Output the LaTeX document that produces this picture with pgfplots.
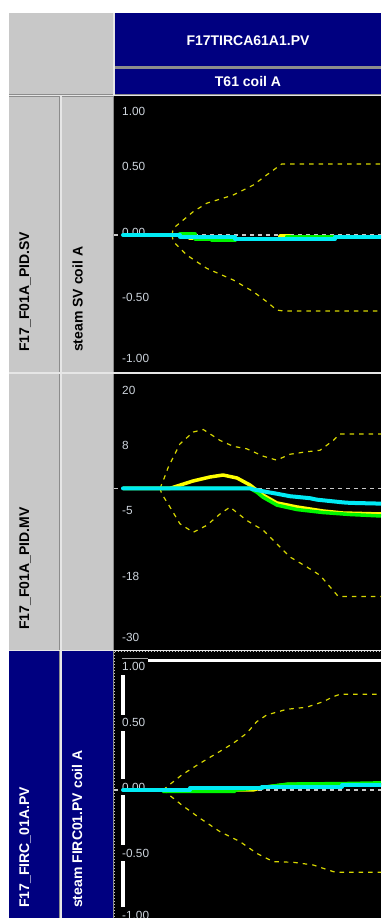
\documentclass[border=0pt]{standalone}
\usepackage{pgfplots}
\pgfplotsset{compat=1.18}
\usepackage{fontspec}
\setmainfont{Liberation Sans}
\definecolor{navy}{RGB}{0,0,128}
\definecolor{cellgray}{RGB}{200,200,200}
\definecolor{sepgray}{RGB}{140,140,140}
\definecolor{hilite}{RGB}{230,230,230}
\definecolor{ticktext}{RGB}{205,212,220}
\definecolor{envy}{RGB}{215,215,0}
\definecolor{zgray}{RGB}{200,200,200}
\definecolor{cyanc}{RGB}{0,235,245}
\definecolor{yelc}{RGB}{255,255,0}
\definecolor{grc}{RGB}{0,245,0}
\pgfplotsset{
 mat/.style={scale only axis, width=267pt, xmin=114, xmax=381, hide axis, anchor=north west, clip=true},
 env/.style={envy, line width=1.2pt, dash pattern=on 4.5pt off 5pt},
 zero/.style={zgray, line width=1.3pt, dash pattern=on 4pt off 4pt},
 cy/.style={cyanc, line width=4pt, line cap=round, line join=round},
 yl/.style={yelc, line width=3.5pt, line join=round},
 gr/.style={grc, line width=3.5pt, line join=round},
}
\tikzset{
 tl/.style={anchor=west, font=\fontsize{11.8}{12}\selectfont, text=ticktext, fill=black, inner xsep=2pt, inner ysep=3.8pt, text height=8.5pt, text depth=0pt},
 hl/.style={font=\bfseries\fontsize{14}{14}\selectfont},
 vl/.style={hl, rotate=90, anchor=west, inner sep=0pt},
}
\begin{document}
\begin{tikzpicture}
\useasboundingbox (0pt,0pt) rectangle (381pt,-918pt);
\clip (0pt,0pt) rectangle (381pt,-918pt);
\begin{scope}[x=1pt,y=-1pt]
\fill[white] (0,0) rectangle (381,918);
\fill[sepgray] (9,13) rectangle (381,918);
% light highlight lines of the grid
\fill[hilite] (9,95) rectangle (381,96.3);
\fill[hilite] (9,372.3) rectangle (381,373.5);
\fill[hilite] (9,650) rectangle (381,651);
\fill[hilite] (60.3,95) rectangle (61.5,918);
\fill[hilite] (113.2,13) rectangle (114.5,95);
% header
\fill[cellgray] (9.3,13.3) rectangle (112.7,94.3);
\fill[navy] (114.5,13.3) rectangle (381,66);
\fill[navy] (114.5,68.5) rectangle (381,94.3);
\node[hl, text=white] at (248,41) {F17TIRCA61A1.PV};
\node[hl, text=white] at (248,81) {T61 coil A};
% row 1
\fill[cellgray] (9.3,96.5) rectangle (58.7,371.5);
\fill[cellgray] (61.5,96.5) rectangle (112.7,371.5);
\fill[black] (114,95.5) rectangle (381,372);
\node[vl] at (25,352) {F17\_F01A\_PID.SV};
\node[vl] at (77.5,352) {steam SV coil A};
% row 2
\fill[cellgray] (9.3,373.5) rectangle (58.7,649.5);
\fill[cellgray] (61.5,373.5) rectangle (112.7,649.5);
\fill[black] (114,373.5) rectangle (381,649.5);
\node[vl] at (25,630) {F17\_F01A\_PID.MV};
% row 3
\fill[navy] (9.3,651) rectangle (58.7,918);
\fill[navy] (61.5,651) rectangle (112.7,918);
\fill[black] (114,651) rectangle (381,918);
\node[vl, text=white] at (25,908) {F17\_FIRC\_01A.PV};
\node[vl, text=white] at (77,908) {steam FIRC01.PV coil A};
\draw[gray!45, dotted, line width=1pt] (114.5,651.5) -- (381,651.5);
\draw[gray!45, dotted, line width=1pt] (114.5,651.5) -- (114.5,918);
\draw[gray!70, line width=1pt] (122,658.8) -- (148,658.8);
\draw[white, line width=3pt] (148,660) -- (381,660);
\draw[white, line width=4.5pt] (123,662) -- (123,918);
% tick labels
\node[tl] at (120,111.7) {1.00};
\node[tl] at (120,166.7) {0.50};
\node[tl] at (120,232) {0.00};
\node[tl] at (120,297) {-0.50};
\node[tl] at (120,358) {-1.00};
\node[tl] at (120,390) {20};
\node[tl] at (120,445) {8};
\node[tl] at (120,510) {-5};
\node[tl] at (120,576) {-18};
\node[tl] at (120,637) {-30};
\node[tl] at (120,666.7) {1.00};
\node[tl] at (120,722.7) {0.50};
\node[tl] at (120,787) {0.00};
\node[tl] at (120,853) {-0.50};
\node[tl] at (120,915) {-1.00};
\end{scope}

% plot 1: steam SV
\begin{axis}[mat, at={(114pt,-95.5pt)}, height=276.5pt, ymin=-1.114, ymax=1.134]
\addplot[zero] coordinates {(114,0) (381,0)};
\addplot[env] coordinates {(172,0) (173.3,0.054) (193.3,0.19) (206.7,0.258) (233.3,0.325) (253.3,0.406) (266.7,0.488) (281.7,0.577) (381,0.577)};
\addplot[env] coordinates {(172,0) (173.3,-0.054) (186.7,-0.163) (206.7,-0.271) (233.3,-0.366) (253.3,-0.461) (266.7,-0.542) (276.7,-0.61) (283.3,-0.618) (381,-0.618)};
\addplot[yl] coordinates {(123,0) (190,0) (190,-0.03) (235,-0.03) (235,-0.035) (280,-0.035) (280,-0.008) (290,-0.008) (290,-0.015) (381,-0.015)};
\addplot[gr] coordinates {(123,0) (180,0) (180,0.01) (195,0.01) (195,-0.035) (212,-0.035) (212,-0.045) (235,-0.045) (235,-0.03) (287,-0.03) (287,-0.011) (335,-0.011) (335,-0.019) (381,-0.019)};
\addplot[cy] coordinates {(123,0) (180,0) (180,-0.014) (235,-0.014) (235,-0.033) (335,-0.033) (335,-0.019) (381,-0.019)};
\end{axis}

% plot 2: MV
\begin{axis}[mat, at={(114pt,-373.5pt)}, height=276pt, ymin=-32.63, ymax=23.24]
\addplot[zero] coordinates {(114,0) (381,0)};
\addplot[env] coordinates {(160,0) (163.3,1.6) (168.3,4.3) (180,9.0) (193.3,11.4) (203.3,11.9) (220,9.7) (233.3,8.5) (246.7,8.0) (263.3,6.5) (276.7,5.7) (290,6.9) (306.7,7.4) (320,7.7) (333.3,9.7) (340,11.0) (381,11.0)};
\addplot[env] coordinates {(160,0) (161.7,-1.1) (170,-3.8) (180,-7.2) (193.3,-8.9) (206.7,-7.5) (220,-5.2) (230,-3.8) (246.7,-6.5) (263.3,-8.5) (276.7,-11.2) (290,-13.9) (306.7,-15.9) (320,-17.6) (338.3,-21.9) (381,-21.9)};
\addplot[yl] coordinates {(123,0) (170,0) (193,1.48) (210,2.29) (223,2.69) (237,2.09) (250,0.67) (263,-1.36) (277,-2.97) (297,-3.78) (323,-4.59) (343,-5.0) (381,-5.2)};
\addplot[gr] coordinates {(123,0) (250,0) (257,-0.8) (263,-1.8) (277,-3.4) (297,-4.3) (323,-4.9) (350,-5.3) (381,-5.6)};
\addplot[cy] coordinates {(123,0) (250,0) (253,-0.2) (267,-0.75) (277,-1.1) (290,-1.6) (310,-2.0) (317,-2.3) (343,-2.85) (350,-2.95) (381,-3.1)};
\end{axis}

% plot 3: FIRC PV
\begin{axis}[mat, at={(114pt,-651pt)}, height=267pt, ymin=-1.041, ymax=1.130]
\addplot[zero] coordinates {(114,0) (381,0)};
\addplot[env] coordinates {(163,0) (181.7,0.122) (200,0.217) (216.7,0.298) (233.3,0.38) (246.7,0.461) (256.7,0.555) (266.7,0.61) (286.7,0.656) (306.7,0.673) (323.3,0.718) (333.3,0.759) (340,0.778) (381,0.778)};
\addplot[env] coordinates {(163,0) (181.7,-0.122) (200,-0.23) (220,-0.339) (240,-0.42) (256.7,-0.515) (273.3,-0.583) (293.3,-0.588) (313.3,-0.61) (333.3,-0.664) (340,-0.669) (381,-0.669)};
\addplot[yl] coordinates {(123,0) (253,0) (262,0.02) (288,0.045) (381,0.05)};
\addplot[gr] coordinates {(123,0) (163,0) (163,-0.012) (235,-0.012) (235,0) (262,0.02) (288,0.048) (343,0.052) (381,0.058)};
\addplot[cy] coordinates {(123,0) (190,0) (190,0.014) (262,0.014) (262,0.027) (342,0.027) (342,0.038) (381,0.038)};
\end{axis}
\end{tikzpicture}
\end{document}
